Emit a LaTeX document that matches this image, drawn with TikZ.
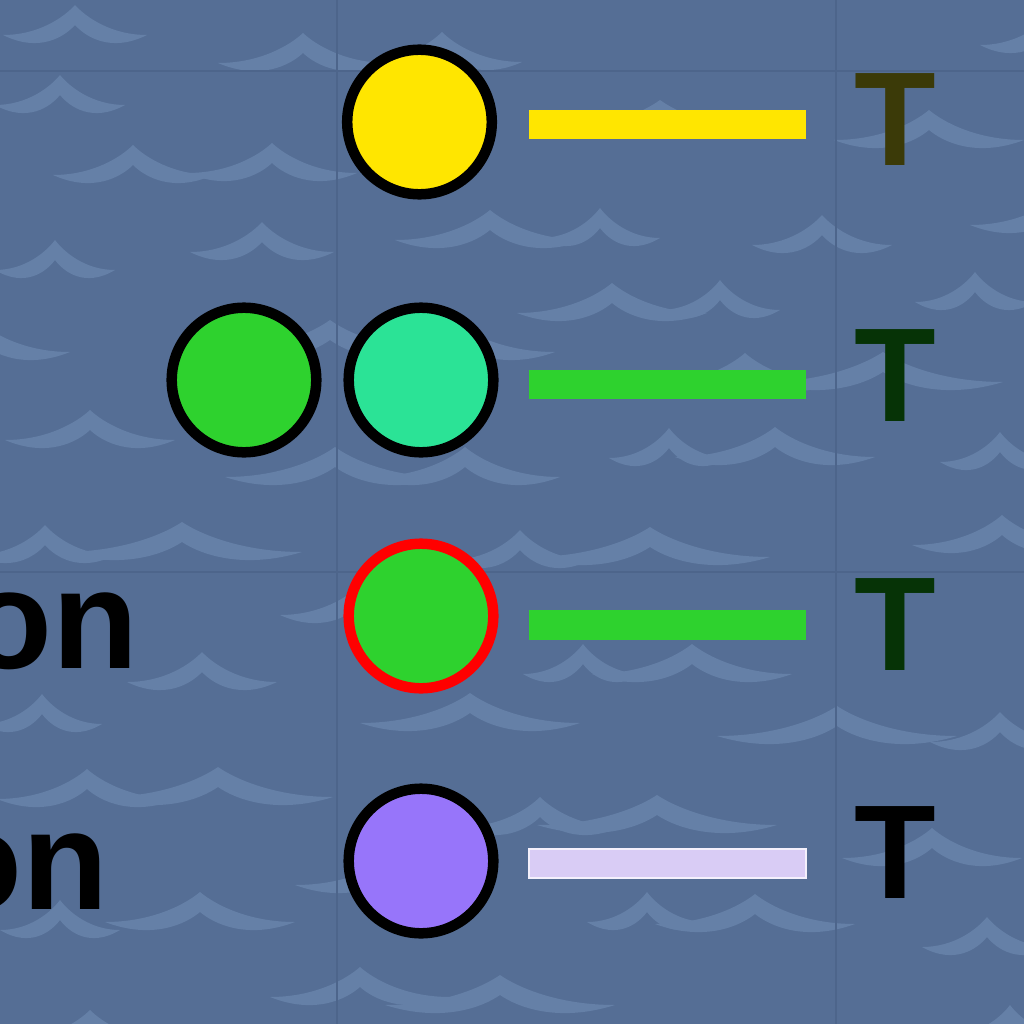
\documentclass[tikz,border=0pt]{standalone}
\usepackage{fontspec}
\setmainfont{Liberation Sans}

\definecolor{sea}{HTML}{556E95}
\definecolor{seafoam}{HTML}{6580A7}
\definecolor{seam}{HTML}{4D658B}
\definecolor{sunfill}{HTML}{FFE600}
\definecolor{leaf}{HTML}{2ED22E}
\definecolor{mint}{HTML}{2BE396}
\definecolor{violet}{HTML}{9775FA}
\definecolor{lilac}{HTML}{D9CCF5}
\definecolor{olive}{HTML}{3B3A08}
\definecolor{pine}{HTML}{063306}

% one crest of the sea pattern: peak x, peak y, half width
\newcommand{\wavecrest}[3]{%
  \fill[crest] ({#1-#3},{#2+30})
    .. controls ({#1-0.5*#3},{#2+30}) and ({#1-0.15*#3},{#2+12}) .. ({#1},{#2})
    .. controls ({#1+0.15*#3},{#2+12}) and ({#1+0.5*#3},{#2+30}) .. ({#1+#3},{#2+30})
    .. controls ({#1+0.5*#3},{#2+48}) and ({#1+0.15*#3},{#2+32}) .. ({#1},{#2+20})
    .. controls ({#1-0.15*#3},{#2+32}) and ({#1-0.5*#3},{#2+48}) .. cycle;}

\begin{document}
\begin{tikzpicture}[
    x=0.01cm, y=-0.01cm,
    crest/.style={fill=seafoam},
    seamline/.style={draw=seam, line width=0.25mm},
    dot/.style={circle, draw=black, line width=1.05mm, minimum size=14.45mm, inner sep=0pt},
    bar/.style={rectangle, minimum width=27.7mm, minimum height=2.9mm, inner sep=0pt},
    tag/.style={font=\fontsize{38}{38}\selectfont\bfseries, inner sep=0pt},
    word/.style={font=\fontsize{40}{40}\selectfont\bfseries, inner sep=0pt, anchor=base east}
]
  \useasboundingbox (0,0) rectangle (1024,1024);
  \clip (0,0) rectangle (1024,1024);
  \fill[sea] (0,0) rectangle (1024,1024);

  % sea pattern
  \foreach \px/\py/\w in {75/5/72, 60/75/65, 133/145/80, 272/143/85, 303/33/85, 442/32/80,
      262/222/72, 55/240/60, 490/210/95, 600/208/60, 822/215/70, 612/283/95, 720/280/60,
      975/272/60, -20/322/90, 330/320/110, 455/322/100, 90/410/85, 335/447/110, 465/447/95,
      660/100/110, 669/428/60, 775/427/100, 1000/432/60, 745/353/90, 883/352/120,
      929/110/95, 1050/15/70, 1060/195/90, 45/525/70, 182/522/120, 520/530/70,
      650/527/120, 1002/515/90, 202/652/75, 42/694/60, 87/769/90, 218/767/115,
      583/644/60, 692/644/100, 470/693/110, 837/706/120, 1000/712/70, 540/797/80,
      657/795/120, 932/828/90, 647/892/60, 755/894/100, 987/917/65, 60/900/60,
      200/892/95, 395/855/100, 360/967/90, 500/975/115, 90/1010/80, 1010/1005/60,
      360/585/80}
    {\wavecrest{\px}{\py}{\w}}

  % faint grid
  \draw[seamline] (337,0) -- (337,1024);
  \draw[seamline] (836,0) -- (836,1024);
  \draw[seamline] (0,71) -- (1024,71);
  \draw[seamline] (0,572) -- (1024,572);

  % row labels, cut by the frame
  \node[word] (onA) at (139,668) {on};
  \node[word] (onB) at (109,909) {on};

  % markers
  \node[dot, fill=sunfill] (sun) at (419.5,122) {};
  \node[dot, fill=leaf] (leafL) at (244,380) {};
  \node[dot, fill=mint] (leafR) at (421,380) {};
  \node[dot, fill=leaf, draw=red] (ring) at (421,616) {};
  \node[dot, fill=violet] (plum) at (421,861) {};

  % lines
  \node[bar, fill=sunfill] (barA) at (667.5,124.5) {};
  \node[bar, fill=leaf] (barB) at (667.5,384.5) {};
  \node[bar, fill=leaf] (barC) at (667.5,625) {};
  \node[bar, fill=lilac, draw=white!70!lilac, line width=0.2mm] (barD) at (667.5,863.5) {};

  % tags
  \node[tag, text=olive] (tagA) at (895.5,120) {T};
  \node[tag, text=pine] (tagB) at (895.5,376) {T};
  \node[tag, text=pine] (tagC) at (895.5,625) {T};
  \node[tag, text=black] (tagD) at (895.5,852.5) {T};
\end{tikzpicture}
\end{document}
